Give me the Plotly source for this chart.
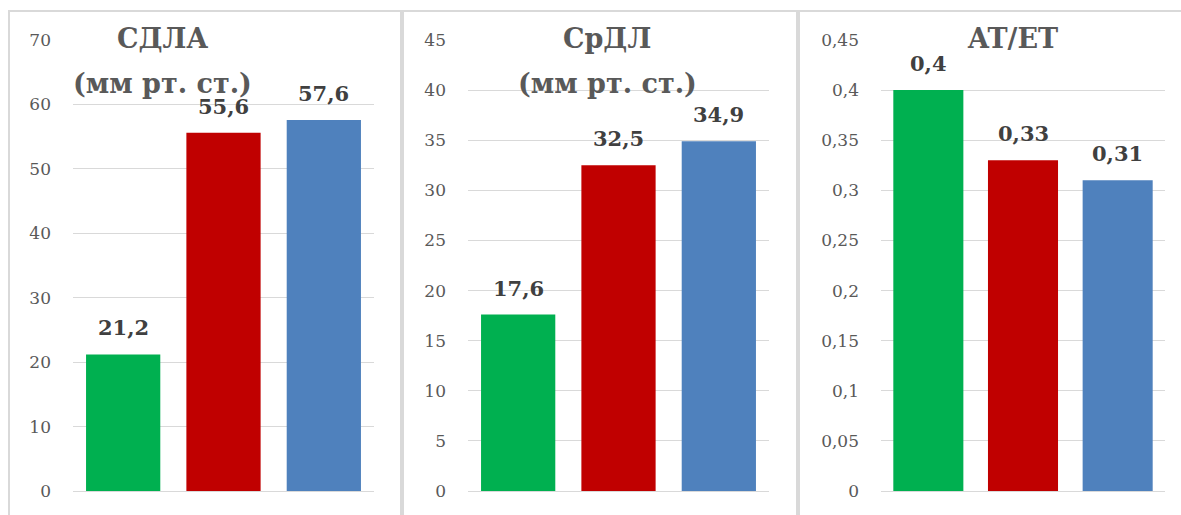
import plotly.graph_objects as go

W, H = 1181, 515

groups = ["Группа 1", "Группа 2", "Группа 3"]
colors = ["#00b050", "#c00000", "#4f81bd"]

sdla_values = [21.2, 55.6, 57.6]
srdl_values = [17.6, 32.5, 34.9]
atet_values = [0.4, 0.33, 0.31]

title_line1 = ["СДЛА", "СрДЛ", "AT/ET"]
title_line2 = ["(мм рт. ст.)", "(мм рт. ст.)", ""]
y_max = [70, 45, 0.45]
y_dtick = [10, 5, 0.05]

panels = [sdla_values, srdl_values, atet_values]

# pixel layout
x_dom_px = [(73, 374), (468, 769), (881, 1165)]
title_x_px = [162, 607, 1012]
y0_px, y1_px = 491, 40
borders_px = [(9, 401), (403, 797), (799, 1190)]

def px(x):
    return x / W

def py(y):
    return (H - y) / H

FONT = "DejaVu Serif"

fig = go.Figure()
for i, vals in enumerate(panels):
    n = "" if i == 0 else str(i + 1)
    fig.add_trace(go.Bar(
        x=groups, y=vals, marker=dict(color=colors, line=dict(width=0)),
        xaxis="x" + n, yaxis="y" + n, showlegend=False, hoverinfo="skip",
    ))
    for g, v in zip(groups, vals):
        fig.add_annotation(
            x=g, y=v, xref="x" + n, yref="y" + n,
            text="<b>" + ("%g" % v).replace(".", ",") + "</b>",
            showarrow=False, yanchor="bottom", yshift=12,
            font=dict(family=FONT, size=21, color="#404040"),
        )
    for line, yc in ((title_line1[i], 38), (title_line2[i], 84)):
        if line:
            fig.add_annotation(
                x=px(title_x_px[i]), y=py(yc), xref="paper", yref="paper",
                text="<b>" + line + "</b>", showarrow=False,
                xanchor="center", yanchor="middle",
                font=dict(family=FONT, size=27, color="#595959"),
            )
    b0, b1 = borders_px[i]
    fig.add_shape(type="rect", xref="paper", yref="paper",
                  x0=px(b0), x1=px(b1), y0=py(530), y1=py(11),
                  line=dict(color="#d9d9d9", width=2), layer="below")
    xa = dict(domain=[px(x_dom_px[i][0]), px(x_dom_px[i][1])],
              showticklabels=False, showgrid=False, zeroline=False,
              showline=False, anchor="y" + n, automargin=False)
    ya = dict(domain=[py(y0_px), py(y1_px)], range=[0, y_max[i]],
              dtick=y_dtick[i], tick0=0, showgrid=True, gridcolor="#d9d9d9",
              gridwidth=1, zeroline=True, zerolinecolor="#d9d9d9",
              zerolinewidth=1, showline=False, ticks="", ticklabelstandoff=21,
              tickfont=dict(family=FONT, size=17, color="#595959"),
              anchor="x" + n, automargin=False)
    fig.layout["xaxis" + n] = xa
    fig.layout["yaxis" + n] = ya

fig.update_layout(
    width=W, height=H,
    margin=dict(l=0, r=0, t=0, b=0, pad=0, autoexpand=False),
    paper_bgcolor="white", plot_bgcolor="white",
    bargap=0.26, separators=", ",
)

fig.write_html(
    "out.html",
    config={"displayModeBar": False},
    post_script=(
        "document.documentElement.style.overflow='hidden';"
        "document.body.style.margin='0';document.body.style.overflow='hidden';"
        "var gd=document.getElementById('{plot_id}');"
        "gd.style.position='fixed';gd.style.left='0px';gd.style.top='0px';"
    ),
)
